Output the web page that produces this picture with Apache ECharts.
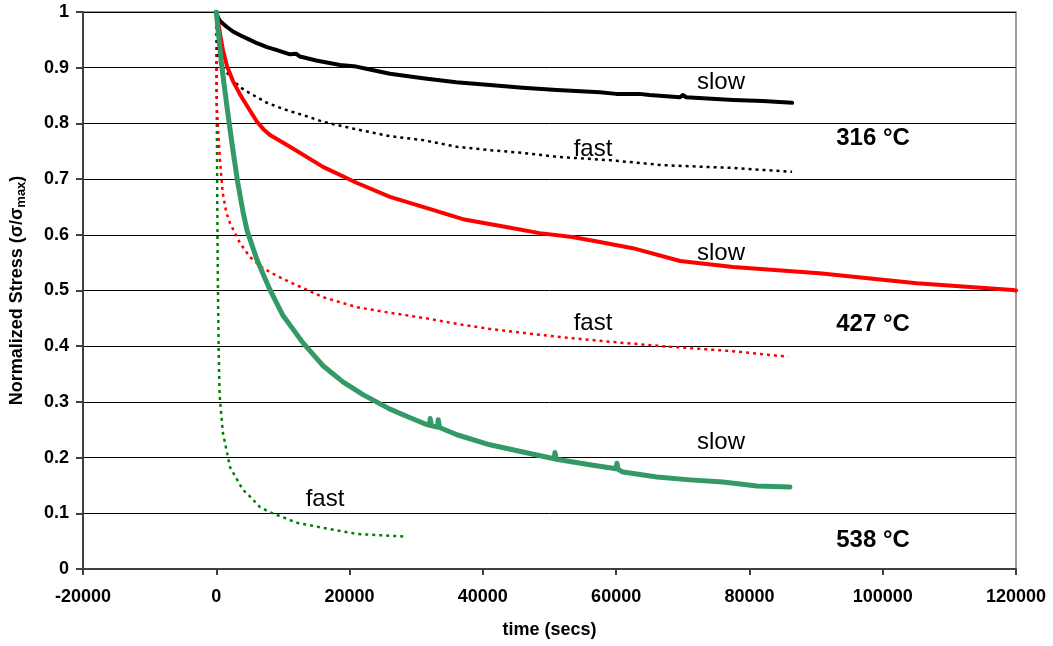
<!DOCTYPE html>
<html>
<head>
<meta charset="utf-8">
<script src="https://cdn.jsdelivr.net/npm/echarts@6/dist/echarts.min.js"></script>
<style>
html,body{margin:0;padding:0;background:#fff;}
#chart{width:1053px;height:646px;}
</style>
</head>
<body>
<div id="chart"></div>
<script>
// time (secs), normalized stress
const slow316 = [[0,1.0],[250,0.99],[555,0.984],[1500,0.974],[2500,0.965],[3800,0.957],[5060,0.95],[6110,0.944],[7610,0.937],[9000,0.932],[10010,0.928],[11060,0.924],[12000,0.925],[12560,0.920],[15000,0.913],[18560,0.905],[21000,0.902],[22500,0.898],[26060,0.889],[31010,0.881],[36000,0.874],[41060,0.869],[46000,0.864],[51120,0.86],[57560,0.856],[60000,0.853],[63500,0.853],[65000,0.851],[69580,0.847],[70000,0.851],[70500,0.847],[77540,0.842],[82000,0.840],[86400,0.837]];
const fast316 = [[0,1.0],[150,0.95],[255,0.919],[1000,0.9],[2500,0.878],[3560,0.865],[5060,0.854],[6110,0.847],[7610,0.837],[10010,0.826],[11060,0.822],[13000,0.815],[16010,0.803],[20000,0.792],[26060,0.777],[31010,0.770],[36110,0.758],[41060,0.752],[46010,0.747],[51120,0.740],[57560,0.735],[59070,0.734],[67000,0.725],[77540,0.720],[86400,0.713]];
const slow427 = [[0,1.0],[250,0.985],[600,0.958],[1000,0.932],[1600,0.903],[2500,0.876],[3560,0.852],[5000,0.824],[6110,0.803],[7200,0.788],[8060,0.779],[11060,0.758],[16010,0.722],[21120,0.693],[26060,0.668],[31010,0.650],[37000,0.628],[43500,0.614],[48500,0.603],[53400,0.596],[57560,0.587],[62500,0.576],[69600,0.553],[77540,0.542],[90500,0.531],[105100,0.513],[119500,0.501],[120000,0.500]];
const fast427 = [[0,1.0],[60,0.837],[300,0.783],[555,0.734],[955,0.676],[1500,0.640],[2055,0.621],[3560,0.585],[5060,0.56],[7010,0.540],[9000,0.527],[11060,0.515],[16010,0.488],[21120,0.470],[26060,0.460],[31010,0.451],[36110,0.440],[41060,0.431],[46010,0.424],[51120,0.417],[59070,0.408],[67000,0.400],[77540,0.391],[85800,0.381]];
const slow538 = [[0,1.0],[800,0.905],[1600,0.83],[2400,0.76],[3200,0.695],[4000,0.642],[4610,0.608],[6110,0.555],[8060,0.501],[10010,0.455],[13010,0.406],[16010,0.365],[19000,0.336],[22010,0.313],[26060,0.287],[29000,0.272],[31010,0.262],[32000,0.258],[32100,0.27],[32300,0.257],[33200,0.255],[33300,0.268],[33500,0.254],[36110,0.241],[41060,0.223],[46010,0.210],[50700,0.198],[50820,0.209],[51000,0.197],[56070,0.187],[60000,0.18],[60120,0.19],[60300,0.179],[61020,0.174],[66120,0.165],[71070,0.160],[76020,0.156],[81120,0.149],[86070,0.147]];
const fast538 = [[0,1.0],[60,0.85],[120,0.72],[180,0.6],[250,0.5],[350,0.4],[480,0.32],[555,0.303],[1000,0.244],[1755,0.201],[2055,0.183],[4000,0.142],[4600,0.136],[6560,0.111],[8060,0.102],[9110,0.097],[12110,0.083],[16010,0.074],[21120,0.063],[24000,0.061],[28620,0.058]];
const annotations = ['slow','fast','316 °C','slow','fast','427 °C','slow','fast','538 °C'];

const FONT = '"Liberation Sans", Arial, sans-serif';
const chart = echarts.init(document.getElementById('chart'));

function line(name, data, color, width, dotted) {
  return {
    name: name, type: 'line', data: data, showSymbol: false, symbol: 'none',
    smooth: false, silent: true,
    lineStyle: { color: color, width: width, type: dotted ? [3, 4] : 'solid', cap: dotted ? 'butt' : 'round', join: 'round' }
  };
}

function txt(t, x, y, bold) {
  return { type: 'text', x: x, y: y, silent: true,
    style: { text: t, fill: '#000', font: (bold ? 'bold ' : '') + '24px ' + FONT, align: 'center', verticalAlign: 'middle' } };
}

chart.setOption({
  animation: false,
  backgroundColor: '#fff',
  grid: { left: 83, right: 37, top: 12, bottom: 77, show: true, borderColor: '#808080', borderWidth: 1.5, backgroundColor: 'transparent' },
  xAxis: {
    type: 'value', min: -20000, max: 120000, interval: 20000,
    name: 'time (secs)', nameLocation: 'middle', nameGap: 52,
    nameTextStyle: { fontFamily: FONT, fontWeight: 'bold', fontSize: 18, color: '#000' },
    axisLine: { show: true, onZero: false, lineStyle: { color: '#404040', width: 2 } },
    axisTick: { show: true, length: 6, lineStyle: { color: '#404040', width: 2 } },
    axisLabel: { fontFamily: FONT, fontWeight: 'bold', fontSize: 18, color: '#000', margin: 19, formatter: v => String(v) },
    splitLine: { show: false }
  },
  yAxis: {
    type: 'value', min: 0, max: 1, interval: 0.1,
    name: 'Normalized Stress (σ/σ{sub|max})', nameLocation: 'middle', nameGap: 55,
    nameTextStyle: { fontFamily: FONT, fontWeight: 'bold', fontSize: 18, color: '#000',
      rich: { sub: { fontFamily: FONT, fontWeight: 'bold', fontSize: 13, color: '#000', padding: [8, 0, 0, 0], verticalAlign: 'bottom' } } },
    axisLine: { show: true, onZero: false, lineStyle: { color: '#404040', width: 2 } },
    axisTick: { show: true, length: 7, lineStyle: { color: '#404040', width: 2 } },
    axisLabel: { fontFamily: FONT, fontWeight: 'bold', fontSize: 18, color: '#000', margin: 14 },
    splitLine: { show: true, lineStyle: { color: '#000', width: 1 } }
  },
  series: [
    line('538 fast', fast538, '#008000', 2.5, true),
    line('427 fast', fast427, '#FF0000', 2.5, true),
    line('316 fast', fast316, '#000000', 2.5, true),
    line('316 slow', slow316, '#000000', 4, false),
    line('427 slow', slow427, '#FF0000', 4, false),
    line('538 slow', slow538, '#339966', 5, false)
  ],
  graphic: [
    txt(annotations[0], 721, 82, false),
    txt(annotations[1], 593, 149, false),
    txt(annotations[2], 873, 138, true),
    txt(annotations[3], 721, 253, false),
    txt(annotations[4], 593, 323, false),
    txt(annotations[5], 873, 324, true),
    txt(annotations[6], 721, 442, false),
    txt(annotations[7], 325, 499, false),
    txt(annotations[8], 873, 540, true)
  ]
});
</script>
</body>
</html>
